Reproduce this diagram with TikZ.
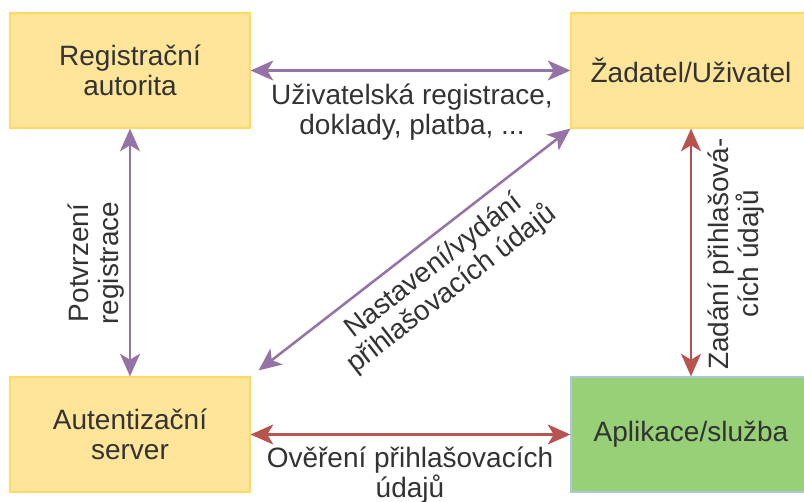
\documentclass[tikz,border=0pt]{standalone}
\usepackage{fontspec}
\setmainfont{Liberation Sans}
\usetikzlibrary{arrows.meta}
\definecolor{boxyellow}{HTML}{FFE599}
\definecolor{boxyellowline}{HTML}{FFD966}
\definecolor{boxgreen}{HTML}{97D077}
\definecolor{boxgreenline}{HTML}{A9C8DA}
\definecolor{flowpurple}{HTML}{9673A6}
\definecolor{flowred}{HTML}{B85450}
\definecolor{txt}{HTML}{333333}
\begin{document}
\begin{tikzpicture}[x=0.75pt,y=-0.75pt,
  basebox/.style={line width=0.9pt, minimum width=180pt, minimum height=86.25pt,
    align=center, inner sep=0pt, text=txt, font=\fontsize{21}{22.5}\selectfont},
  yellowbox/.style={basebox, draw=boxyellowline, fill=boxyellow},
  greenbox/.style={basebox, draw=boxgreenline, fill=boxgreen},
  link/.style={line width=1.9pt, {Stealth[length=17pt,width=15pt,inset=4.5pt]}-{Stealth[length=17pt,width=15pt,inset=4.5pt]}},
  purplelink/.style={link, draw=flowpurple},
  redlink/.style={link, draw=flowred},
  lbl/.style={align=center, inner sep=0pt, text=txt, font=\fontsize{21}{22}\selectfont}]
  \useasboundingbox (0,0) rectangle (804,501);

  % boxes
  \node[yellowbox] (ra) at (130,70.5) {Registrační\\autorita};
  \node[yellowbox] (zu) at (691,70.5) {Žadatel/Uživatel};
  \node[yellowbox] (as) at (130,434.5) {Autentizační\\server};
  \node[greenbox]  (ap) at (691,434.5) {Aplikace/služba};

  % connectors
  \draw[purplelink] (ra) -- (zu);
  \draw[purplelink] (ra) -- (as);
  \draw[purplelink] ([shift={(8,-6)}]as.north east) -- (zu.south west);
  \draw[redlink] (zu) -- (ap);
  \draw[redlink] (as) -- (ap);

  % connector labels
  \node[lbl] (l1) at (412,112) {Uživatelská registrace,\\doklady, platba, ...};
  \node[lbl, rotate=90] (l2) at (96,263) {Potvrzení\\registrace};
  \node[lbl, rotate=37.8] (l3) at (443,278) {Nastavení/vydání\\přihlašovacích údajů};
  \node[lbl, rotate=90] (l4) at (736,254) {Zadání přihlašová-\\cích údajů};
  \node[lbl] (l5) at (410,475) {Ověření přihlašovacích\\údajů};
\end{tikzpicture}
\end{document}
